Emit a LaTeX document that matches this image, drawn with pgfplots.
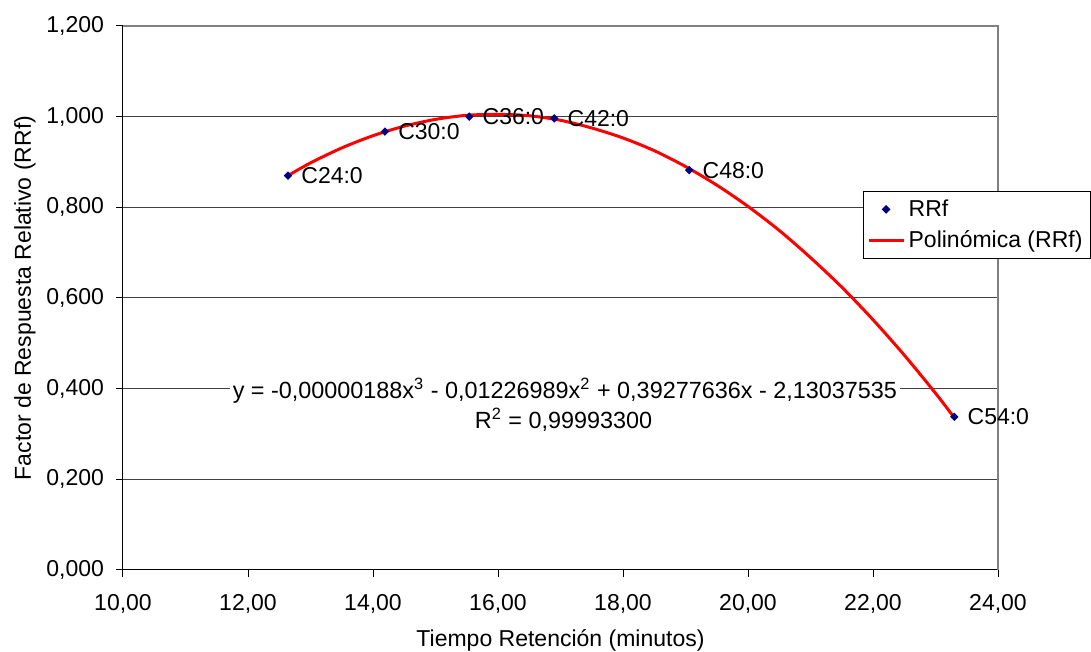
\documentclass[border=0pt]{standalone}
\usepackage{fontspec}
\setmainfont{Liberation Sans}
\usepackage{pgfplots}
\pgfplotsset{compat=1.18}
\newcommand{\cf}{\fontsize{11.5}{13.8}\selectfont}
\newcommand{\ef}{\fontsize{11.7}{14}\selectfont}
\definecolor{navyblue}{RGB}{0,0,128}
\begin{document}
\begin{tikzpicture}
\path[use as bounding box] (-61.5pt,-41pt) rectangle (484pt,285pt);
\begin{axis}[
  at={(0,0)}, anchor=south west,
  scale only axis, width=437.5pt, height=272pt,
  xmin=10, xmax=24, ymin=0, ymax=1.2,
  xtick={10,12,14,16,18,20,22,24},
  ytick={0,0.2,0.4,0.6,0.8,1.0,1.2},
  axis lines=left, axis line style={-, black, line width=0.5pt},
  tick align=outside, major tick length=3.5pt,
  tick style={black, line width=0.5pt},
  ymajorgrids, grid style={black!75, line width=0.5pt},
  /pgf/number format/assume math mode=true,
  xticklabel style={/pgf/number format/.cd, fixed, fixed zerofill, precision=2, use comma, /tikz/.cd, font=\cf, yshift=-5pt},
  yticklabel style={/pgf/number format/.cd, fixed, fixed zerofill, precision=3, use comma, /tikz/.cd, font=\cf, xshift=-2.5pt},
  every axis x label/.style={at={([yshift=-38pt]axis description cs:0.5,0)}, anchor=base, font=\cf},
  every axis y label/.style={at={([xshift=-46pt]axis description cs:0,0.5)}, rotate=90, anchor=base, font=\cf},
  xlabel={Tiempo Retención (minutos)},
  ylabel={Factor de Respuesta Relativo (RRf)},
  clip=false,
  legend style={at={(0.8457,0.6967)}, anchor=north west, draw=black, line width=0.5pt, fill=white, font=\cf, inner xsep=2pt, inner ysep=2pt, row sep=1.5pt, cells={anchor=west}},
]
\addplot[only marks, mark=square*, mark size=1.3pt, mark options={rotate=45, fill=navyblue, draw=navyblue},
  nodes near coords, point meta=explicit symbolic,
  nodes near coords style={anchor=west, font=\cf, text=black, xshift=6.5pt, inner sep=0pt}]
  table[meta=label] {
x y label
12.64 0.870 C24:0
14.19 0.967 C30:0
15.54 1.000 C36:0
16.90 0.996 C42:0
19.06 0.882 C48:0
23.30 0.338 C54:0
};
\addlegendentry{RRf}
\addplot[red, line width=1.5pt, smooth, no markers] coordinates {
(12.64,0.870) (13,0.898) (13.5,0.931) (14,0.958) (14.5,0.979) (15,0.994)
(15.5,1.003) (16,1.005) (16.5,1.002) (17,0.992) (17.5,0.975) (18,0.953)
(18.5,0.925) (19,0.890) (19.5,0.849) (20,0.802) (20.5,0.749) (21,0.689)
(21.5,0.624) (22,0.552) (22.5,0.474) (23,0.390) (23.3,0.336)
};
\addlegendentry{Polinómica (RRf)}
\draw[black!50, line width=0.8pt] (rel axis cs:0,1) -- (rel axis cs:1,1) -- (rel axis cs:1,0);
\node[fill=white, inner xsep=1.5pt, inner ysep=1pt, anchor=base, font=\ef] at (axis cs:17.07,0.3794)
  {y = -0,00000188x\textsuperscript{3} - 0,01226989x\textsuperscript{2} + 0,39277636x - 2,13037535};
\node[inner sep=1pt, anchor=base, font=\ef] at (axis cs:17.05,0.3132)
  {R\textsuperscript{2} = 0,99993300};
\end{axis}
\end{tikzpicture}
\end{document}
